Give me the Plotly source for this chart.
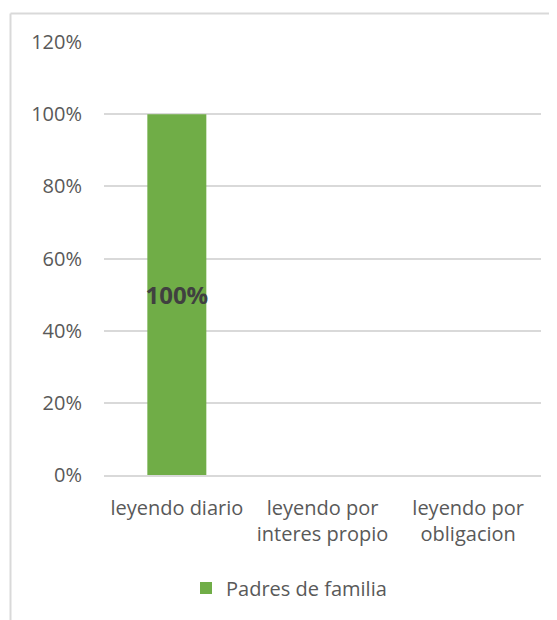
import plotly.graph_objects as go

categories = ["leyendo diario", "leyendo por<br>interes propio", "leyendo por<br>obligacion"]
values = [1.0, 0.0, 0.0]
series_name = "Padres de familia"
y_tickvals = [0, 0.2, 0.4, 0.6, 0.8, 1.0, 1.2]
y_ticktext = ["0%", "20%", "40%", "60%", "80%", "100%", "120%"]

labels = [f"{v:.0%}" if v > 0 else "" for v in values]

OFF = 8  # page body margin
W, H = 557 - OFF, 620 - OFF
L, R, T, B = 104 - OFF, 16, 42 - OFF, 145
pw, ph = W - L - R, H - T - B

def px(x):
    return (x - OFF - L) / pw

def py(y):
    return (H - B - (y - OFF)) / ph

fig = go.Figure()
fig.add_trace(go.Bar(
    x=categories, y=values, name=series_name,
    marker=dict(color="#70ad47", line=dict(width=0)),
    text=labels, textposition="inside", insidetextanchor="middle",
    textangle=0, constraintext="none",
    textfont=dict(family="Open Sans", size=24, color="#404040", weight="bold"),
    showlegend=True,
))

fig.update_layout(
    width=W, height=H,
    margin=dict(l=L, r=R, t=T, b=B, autoexpand=False),
    paper_bgcolor="white", plot_bgcolor="white",
    bargap=0.595,
    font=dict(family="Open Sans", size=20, color="#595959"),
    showlegend=True,
    legend=dict(orientation="h", x=px(186), xanchor="left", y=py(588), yanchor="middle",
                font=dict(size=20, color="#595959"), itemwidth=30, bgcolor="rgba(0,0,0,0)"),
    xaxis=dict(showgrid=False, showline=True, linecolor="#d9d9d9", linewidth=2,
               ticks="outside", ticklen=14, tickcolor="rgba(0,0,0,0)",
               tickfont=dict(size=20, color="#595959"), fixedrange=True),
    yaxis=dict(range=[0, 1.2], tickvals=y_tickvals, ticktext=y_ticktext,
               showgrid=True, gridcolor="#d9d9d9", gridwidth=2, zeroline=False,
               showline=False, ticks="outside", ticklen=17, tickcolor="rgba(0,0,0,0)",
               tickfont=dict(size=20, color="#595959"), fixedrange=True),
    shapes=[
        dict(type="line", xref="paper", yref="paper", x0=px(10.5), x1=px(10.5),
             y0=py(13.5), y1=py(660), line=dict(color="#d9d9d9", width=2)),
        dict(type="line", xref="paper", yref="paper", x0=px(10.5), x1=px(600),
             y0=py(13.5), y1=py(13.5), line=dict(color="#d9d9d9", width=2)),
    ],
)

fig.write_html("out.html")
